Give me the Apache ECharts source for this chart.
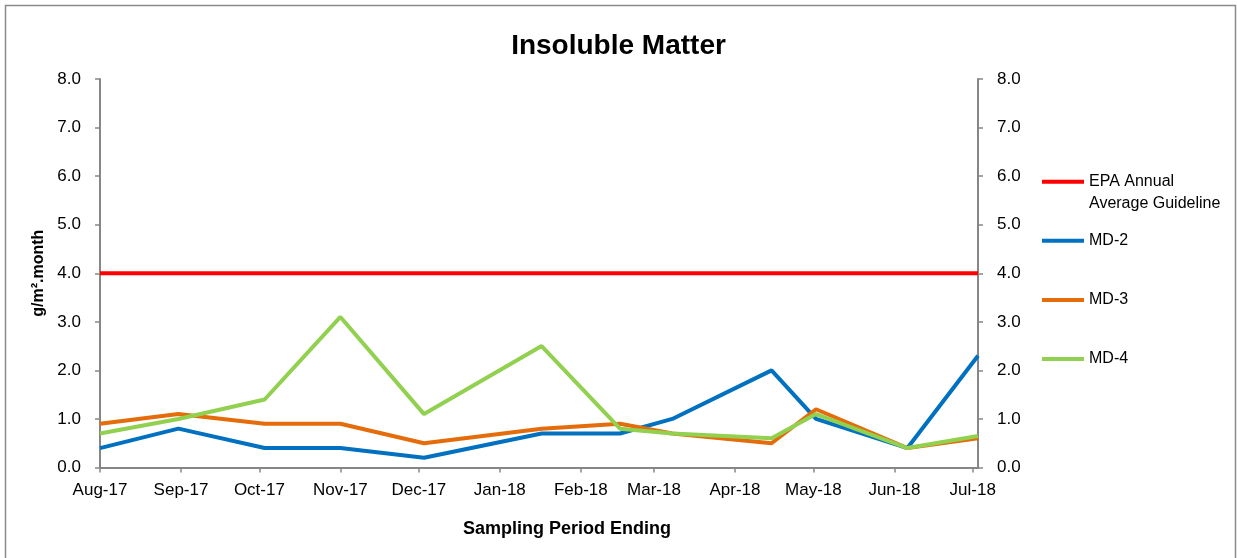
<!DOCTYPE html>
<html>
<head>
<meta charset="utf-8">
<script src="https://cdn.jsdelivr.net/npm/echarts@6/dist/echarts.min.js"></script>
<style>
  html, body { margin: 0; padding: 0; background: #fff; }
  #chart { width: 1237px; height: 558px; }
</style>
</head>
<body>
<div id="chart"></div>
<script>
// ---- data ----
const sampleDates = ['2017-08-01','2017-08-31','2017-10-03','2017-11-01','2017-12-03','2018-01-17','2018-02-16','2018-03-08','2018-04-15','2018-05-02','2018-06-06','2018-07-03'];
const md2 = [0.4, 0.8, 0.4, 0.4, 0.2, 0.7, 0.7, 1.0, 2.0, 1.0, 0.4, 2.3];
const md3 = [0.9, 1.1, 0.9, 0.9, 0.5, 0.8, 0.9, 0.7, 0.5, 1.2, 0.4, 0.6];
const md4 = [0.7, 1.0, 1.4, 3.1, 1.1, 2.5, 0.8, 0.7, 0.6, 1.1, 0.4, 0.65];
const epa = [4.0, 4.0, 4.0, 4.0, 4.0, 4.0, 4.0, 4.0, 4.0, 4.0, 4.0, 4.0];
const monthNames = ['Jan','Feb','Mar','Apr','May','Jun','Jul','Aug','Sep','Oct','Nov','Dec'];
const yTicks = [0, 8, 1]; // min, max, interval

const seriesNames = ['EPA Annual Average Guideline', 'MD-2', 'MD-3', 'MD-4'];
const seriesColors = ['#FF0000', '#0070C0', '#E46C0A', '#92D050'];

function pairs(vals) { return sampleDates.map((d, i) => [d, vals[i]]); }

const FONT = "'Liberation Sans', Arial, sans-serif";
const axisGrey = '#868686';

const chart = echarts.init(document.getElementById('chart'));

const dataSets = [epa, md2, md3, md4];
const legendTops = [181.7, 240.7, 300, 359];

const legends = seriesNames.map((name, i) => {
  const isEpa = i === 0;
  return {
    data: [name],
    orient: 'vertical',
    left: 1042,
    top: isEpa ? legendTops[i] - 33 : legendTops[i] - 11,
    padding: 0,
    icon: 'rect',
    itemWidth: 42,
    itemHeight: 4,
    selectedMode: false,
    formatter: isEpa ? () => ' \nEPA Annual\nAverage Guideline' : undefined,
    textStyle: { fontFamily: FONT, fontSize: 16, color: '#000', lineHeight: 22 }
  };
});

const option = {
  backgroundColor: '#fff',
  animation: false,
  title: {
    text: 'Insoluble Matter',
    left: 'center',
    top: 27,
    textStyle: { fontFamily: FONT, fontSize: 28, fontWeight: 'bold', color: '#000' }
  },
  legend: legends,
  grid: { left: 100, right: 259, top: 79, bottom: 90.5 },
  xAxis: {
    type: 'time',
    min: sampleDates[0],
    max: sampleDates[sampleDates.length - 1],
    minInterval: 28 * 864e5,
    maxInterval: 31 * 864e5,
    name: 'Sampling Period Ending',
    nameLocation: 'middle',
    nameGap: 53,
    nameTextStyle: { fontFamily: FONT, fontSize: 18, fontWeight: 'bold', color: '#000', padding: [0, 0, 0, 56] },
    axisLine: { lineStyle: { color: axisGrey, width: 2 } },
    axisTick: { show: true, length: 5, lineStyle: { color: axisGrey, width: 1.5 } },
    axisLabel: {
      margin: 14,
      fontFamily: FONT, fontSize: 17, color: '#000',
      formatter: function (v) {
        const d = new Date(v);
        return monthNames[d.getMonth()] + '-' + String(d.getFullYear()).slice(2);
      }
    },
    splitLine: { show: false }
  },
  yAxis: [
    {
      type: 'value', position: 'left',
      min: yTicks[0], max: yTicks[1], interval: yTicks[2],
      name: 'g/m².month',
      nameLocation: 'middle',
      nameGap: 41,
      nameTextStyle: { fontFamily: FONT, fontSize: 16, fontWeight: 'bold', color: '#000' },
      axisLine: { show: true, lineStyle: { color: axisGrey, width: 2 } },
      axisTick: { show: true, length: 5, lineStyle: { color: axisGrey, width: 1.5 } },
      axisLabel: { margin: 19, fontFamily: FONT, fontSize: 17, color: '#000', formatter: v => v.toFixed(1) },
      splitLine: { show: false }
    },
    {
      type: 'value', position: 'right',
      min: yTicks[0], max: yTicks[1], interval: yTicks[2],
      axisLine: { show: true, lineStyle: { color: axisGrey, width: 2 } },
      axisTick: { show: true, length: 5, lineStyle: { color: axisGrey, width: 1.5 } },
      axisLabel: { margin: 19, fontFamily: FONT, fontSize: 17, color: '#000', formatter: v => v.toFixed(1) },
      splitLine: { show: false }
    }
  ],
  graphic: [{
    type: 'rect',
    shape: { x: 5.5, y: 5.5, width: 1230, height: 560 },
    style: { fill: 'none', stroke: '#8a8a8a', lineWidth: 1.5 },
    silent: true, z: -1
  }],
  series: seriesNames.map((name, i) => ({
    name: name,
    type: 'line',
    yAxisIndex: 0,
    data: pairs(dataSets[i]),
    showSymbol: false,
    symbol: 'none',
    lineStyle: { color: seriesColors[i], width: 4 },
    itemStyle: { color: seriesColors[i] },
    z: 2 + i
  }))
};

chart.setOption(option);
</script>
</body>
</html>
